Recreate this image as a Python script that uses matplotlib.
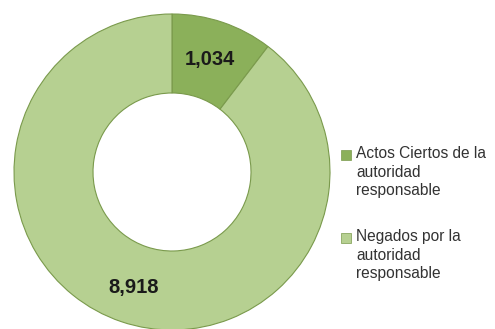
import numpy as np
import matplotlib.pyplot as plt
from matplotlib.patches import Rectangle

plt.rcParams["font.family"] = ["Liberation Sans", "DejaVu Sans"]

# Data
categories = ["Actos Ciertos de la\nautoridad\nresponsable",
              "Negados por la\nautoridad\nresponsable"]
values = [1034, 8918]
value_labels = ["1,034", "8,918"]
colors = ["#8bb05a", "#b6d091"]
edge = "#7a9a4c"

W, H = 495, 329
fig = plt.figure(figsize=(W / 100, H / 100), dpi=100)
# axes positioned so the ring centre sits at about (172, 172) px
cx, cy, r = 172 / W, 1 - 172 / H, 158
ax = fig.add_axes([cx - r / W, cy - r / H, 2 * r / W, 2 * r / H])

wedges, _ = ax.pie(values, colors=colors, startangle=90, counterclock=False,
                   radius=1.0,
                   wedgeprops=dict(width=0.5, edgecolor=edge, linewidth=0.8))
for w in wedges:
    w.set_clip_on(False)
ax.set_xlim(-1, 1)
ax.set_ylim(-1, 1)
ax.set_aspect("equal")
ax.axis("off")

# value labels in the ring
total = sum(values)
ang1 = 90 - 360 * values[0] / total / 2
ang2 = 90 - 360 * values[0] / total - 161
for txt, ang, rad in [(value_labels[0], ang1, 0.75), (value_labels[1], ang2, 0.77)]:
    a = np.radians(ang)
    ax.text(rad * np.cos(a), rad * np.sin(a), txt, ha="center", va="center",
            fontsize=14.5, fontweight="bold", color="#1a1a1a")

# legend: square aligned with the first line of each entry
tops = [147, 230]
for lab, c, top in zip(categories, colors, tops):
    fig.patches.append(Rectangle((341 / W, 1 - (top + 13) / H), 10 / W, 10 / H,
                                 transform=fig.transFigure, facecolor=c,
                                 edgecolor=edge, linewidth=0.5))
    fig.text(356 / W, 1 - (top - 1) / H, lab, ha="left", va="top",
             fontsize=11.2, color="#333333", linespacing=1.3)

fig.savefig("out.png", dpi=100, facecolor="white")
